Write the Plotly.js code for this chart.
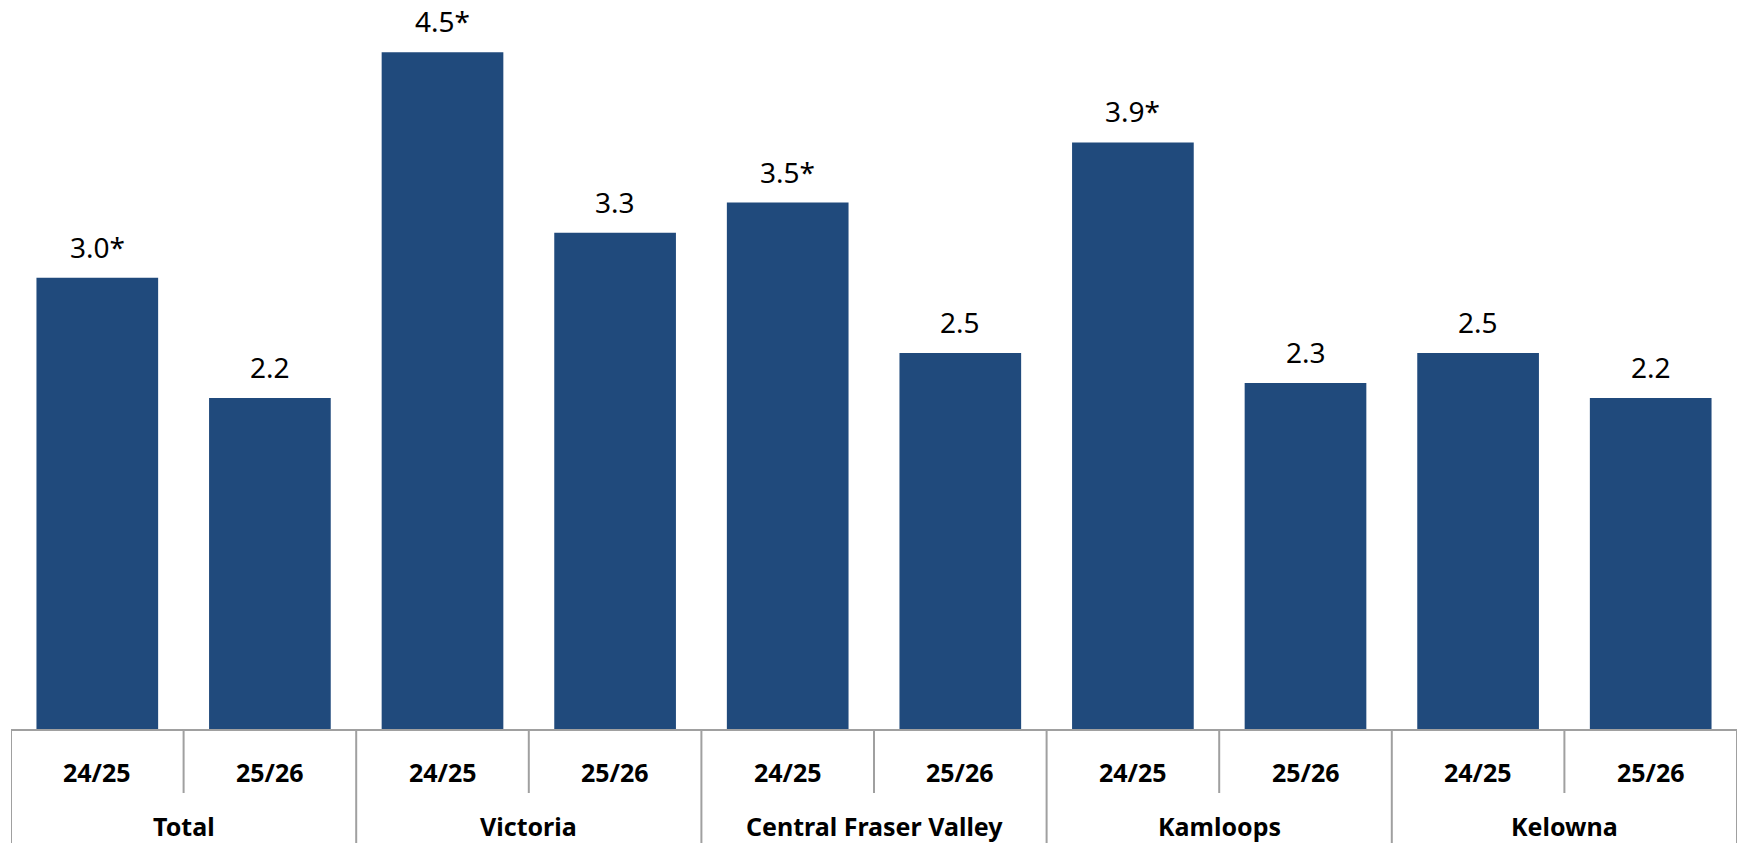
<!DOCTYPE html>
<html>
<head>
<meta charset="utf-8">
<script src="https://cdn.plot.ly/plotly-3.0.1.min.js"></script>
<style>
  html, body { margin: 0; padding: 0; background: #ffffff; }
  #chart { width: 1737px; height: 843px; }
</style>
</head>
<body>
<div id="chart"></div>
<script>
// Regions and seasons along the bottom of the chart
const regions = ["Total", "Victoria", "Central Fraser Valley", "Kamloops", "Kelowna"];
const seasons = ["24/25", "25/26"];

// One value per region and season, in the same order as the bars
const values = [3.0, 2.2, 4.5, 3.3, 3.5, 2.5, 3.9, 2.3, 2.5, 2.2];
// Values carrying an asterisk in their label
const flagged = [true, false, true, false, true, false, true, false, false, false];

const barColor = "#204a7c";
const lineColor = "#a0a0a0";

// Flatten regions x seasons into bar slots
const slotIndex = [];
const slotSeason = [];
regions.forEach(function (r, ri) {
  seasons.forEach(function (s, si) {
    slotIndex.push(ri * seasons.length + si);
    slotSeason.push(s);
  });
});

const labels = values.map(function (v, i) {
  return v.toFixed(1) + (flagged[i] ? "*" : "");
});

const trace = {
  type: "bar",
  x: slotIndex,
  y: values,
  width: 0.705,
  marker: { color: barColor, line: { width: 0 } },
  hoverinfo: "skip",
  showlegend: false
};

const annotations = [];
const shapes = [];

// Value labels above each bar
values.forEach(function (v, i) {
  annotations.push({
    x: slotIndex[i], y: v, xref: "x", yref: "y",
    text: labels[i], showarrow: false,
    xanchor: "center", yanchor: "middle", yshift: 31,
    font: { family: "'Noto Sans', sans-serif", size: 28, color: "#000000" }
  });
});

// Season labels directly under each bar
slotIndex.forEach(function (xi, i) {
  annotations.push({
    x: xi, y: 0, xref: "x", yref: "paper",
    text: "<b>" + slotSeason[i] + "</b>", showarrow: false,
    xanchor: "center", yanchor: "middle", yshift: -43,
    font: { family: "'Noto Sans', sans-serif", size: 25, color: "#000000" }
  });
});

// Region labels centred under each pair of bars
regions.forEach(function (r, ri) {
  const centre = ri * seasons.length + (seasons.length - 1) / 2;
  annotations.push({
    x: centre, y: 0, xref: "x", yref: "paper",
    text: "<b>" + r + "</b>", showarrow: false,
    xanchor: "center", yanchor: "middle", yshift: -97,
    font: { family: "'Noto Sans', sans-serif", size: 25, color: "#000000" }
  });
});

// Divider lines in the category table: short between seasons, full height between regions
const subDepth = -64 / 729;
const groupDepth = -116 / 729;
for (let b = 0; b <= slotIndex.length; b++) {
  const isGroupEdge = (b % seasons.length) === 0;
  shapes.push({
    type: "line", xref: "x", yref: "paper",
    x0: b - 0.5, x1: b - 0.5, y0: 0, y1: isGroupEdge ? groupDepth : subDepth,
    line: { color: lineColor, width: 2 }
  });
}

const layout = {
  width: 1737,
  height: 843,
  margin: { l: 11, r: 0, t: 0, b: 114 },
  paper_bgcolor: "#ffffff",
  plot_bgcolor: "#ffffff",
  bargap: 0.29,
  xaxis: {
    range: [-0.5, slotIndex.length - 0.5],
    showticklabels: false,
    ticks: "",
    showgrid: false,
    zeroline: false,
    showline: true,
    linecolor: lineColor,
    linewidth: 2,
    fixedrange: true
  },
  yaxis: {
    range: [0, 4.847],
    visible: false,
    showgrid: false,
    zeroline: false,
    fixedrange: true
  },
  annotations: annotations,
  shapes: shapes
};

Plotly.newPlot("chart", [trace], layout, { displayModeBar: false, staticPlot: true });
</script>
</body>
</html>
